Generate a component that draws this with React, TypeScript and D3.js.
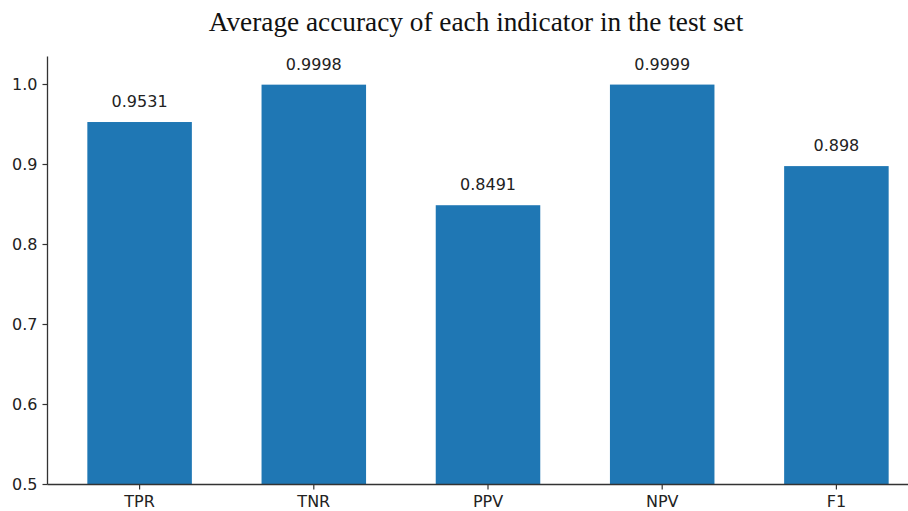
import React from "react";
import * as d3 from "d3";

const categories = ["TPR", "TNR", "PPV", "NPV", "F1"];
const values = [0.9531, 0.9998, 0.8491, 0.9999, 0.898];
const valueLabels = ["0.9531", "0.9998", "0.8491", "0.9999", "0.898"];
const yTicks = [0.5, 0.6, 0.7, 0.8, 0.9, 1.0];
const title = "Average accuracy of each indicator in the test set";

export default function App() {
  const W = 908;
  const H = 511;
  const axisX = 47.5;
  const axisBottom = 484.5;
  const y = d3.scaleLinear().domain([0.5, 1.035]).range([axisBottom, 56.5]);
  const x = d3.scaleLinear().domain([0, 4]).range([139.6, 836.4]);
  const step = x(1) - x(0);
  const bw = step * 0.6;
  const tickFont = "'DejaVu Sans', sans-serif";
  return (
    <svg
      width={W}
      height={H}
      style={{ position: "absolute", left: 0, top: 0, background: "#fff" }}
    >
      <text
        x={476}
        y={30.5}
        textAnchor="middle"
        fontFamily="'Liberation Serif', 'Times New Roman', serif"
        fontSize={27.3}
        fill="#111"
      >
        {title}
      </text>
      {values.map((v, i) => (
        <g key={categories[i]}>
          <rect
            x={x(i) - bw / 2}
            y={y(v)}
            width={bw}
            height={y(0.5) - y(v)}
            fill="#1f77b4"
          />
          <text
            x={x(i)}
            y={y(v) - 15}
            textAnchor="middle"
            fontFamily={tickFont}
            fontSize={16}
            fill="#222"
          >
            {valueLabels[i]}
          </text>
        </g>
      ))}
      <line x1={axisX} x2={axisX} y1={y(1.035)} y2={axisBottom} stroke="#333" strokeWidth={1.3} />
      <line x1={axisX} x2={W} y1={axisBottom} y2={axisBottom} stroke="#333" strokeWidth={1.3} />
      {yTicks.map((t) => (
        <g key={t}>
          <line x1={axisX - 5} x2={axisX} y1={y(t)} y2={y(t)} stroke="#333" strokeWidth={1.2} />
          <text
            x={axisX - 10}
            y={y(t)}
            dy="0.36em"
            textAnchor="end"
            fontFamily={tickFont}
            fontSize={16}
            fill="#222"
          >
            {t.toFixed(1)}
          </text>
        </g>
      ))}
      {categories.map((c, i) => (
        <g key={c}>
          <line x1={x(i)} x2={x(i)} y1={axisBottom} y2={axisBottom + 5} stroke="#333" strokeWidth={1.2} />
          <text
            x={x(i)}
            y={axisBottom + 22}
            textAnchor="middle"
            fontFamily={tickFont}
            fontSize={16}
            fill="#222"
          >
            {c}
          </text>
        </g>
      ))}
    </svg>
  );
}
